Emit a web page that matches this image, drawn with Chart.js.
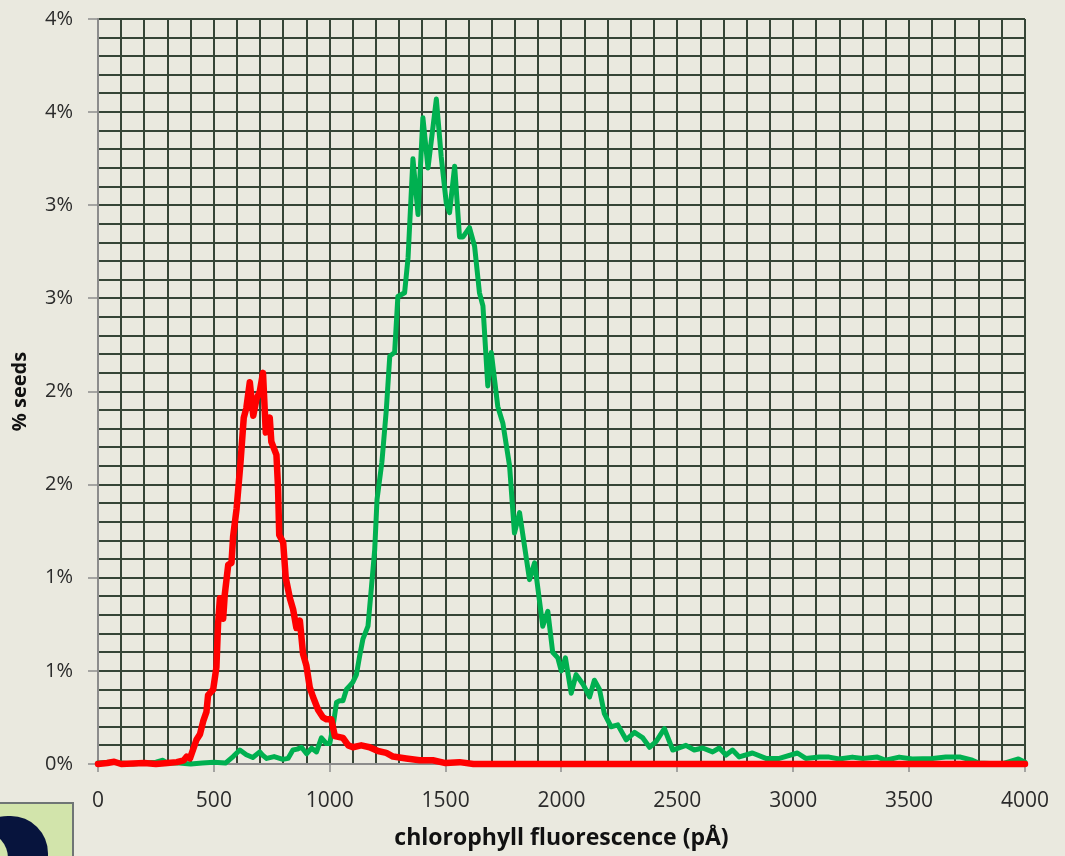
<!DOCTYPE html>
<html>
<head>
<meta charset="utf-8">
<script src="https://cdn.jsdelivr.net/npm/chart.js@4/dist/chart.umd.min.js"></script>
<style>
    body { margin: 0; background: #eae9df; overflow: hidden; }
    #wrap { position: relative; width: 1065px; height: 856px; }
    #logo { position: absolute; left: -4px; top: 802px; width: 74px; height: 60px;
            background: #d2e4ab; border: 2px solid #6f7575; overflow: hidden; }
    #logo .outer { position: absolute; left: -30px; top: 12px; width: 80px; height: 80px;
                   background: #07143d; border-radius: 45px 42px 40px 45px; }
    #logo .hole { position: absolute; left: -36px; top: 29px; width: 46px; height: 50px;
                  background: #d2e4ab; border-radius: 50%; }
</style>
</head>
<body>
<div id="wrap">
    <canvas id="chart" width="1065" height="856"></canvas>
    <div id="logo"><div class="outer"></div><div class="hole"></div></div>
</div>
<script>
    // Data (x = fluorescence pÅ, y = % seeds)
    const redX = [0, 40, 70, 100, 150, 200, 250, 300, 340, 370, 383, 397, 425, 440, 454, 468, 475, 497, 511, 518, 526, 540, 547,
        562, 576, 583, 598, 615, 629, 640, 655, 670, 684, 698, 712, 724, 741, 748, 770, 777, 782, 799, 810, 828, 842, 856,
        871, 885, 899, 914, 928, 950, 971, 986, 1007, 1022, 1057, 1080, 1100, 1136, 1172, 1208, 1244, 1273, 1330, 1388,
        1445, 1500, 1560, 1620, 4000];
    const redY = [0, 0.005, 0.012, 0, 0.003, 0.005, 0, 0.005, 0.01, 0.02, 0.04, 0.03, 0.13, 0.16, 0.23, 0.28, 0.37, 0.40, 0.52,
        0.75, 0.89, 0.78, 0.91, 1.07, 1.08, 1.22, 1.37, 1.62, 1.86, 1.91, 2.05, 1.87, 1.96, 2.0, 2.10, 1.78, 1.86, 1.73, 1.66,
        1.48, 1.23, 1.19, 1.0, 0.89, 0.83, 0.73, 0.77, 0.59, 0.53, 0.41, 0.36, 0.29, 0.25, 0.24, 0.24, 0.15, 0.14, 0.10,
        0.09, 0.10, 0.09, 0.07, 0.06, 0.04, 0.03, 0.02, 0.02, 0.005, 0.01, 0, 0];

    const greenX = [0, 50, 100, 150, 200, 250, 280, 300, 350, 400, 450, 500, 550, 583, 612, 640, 668, 698, 712, 728, 760,
        798, 820, 841, 860, 878, 900, 922, 943, 964, 985, 1000, 1014, 1029, 1043, 1057, 1072, 1086, 1100, 1115, 1129, 1143,
        1165, 1180, 1194, 1204, 1225, 1244, 1259, 1280, 1294, 1323, 1338, 1359, 1381, 1402, 1424, 1460, 1481, 1503, 1517,
        1539, 1560, 1575, 1603, 1625, 1646, 1661, 1682, 1697, 1725, 1747, 1776, 1797, 1819, 1862, 1884, 1919, 1941, 1962,
        1984, 1999, 2017, 2042, 2063, 2092, 2121, 2142, 2164, 2185, 2214, 2243, 2279, 2315, 2351, 2380, 2408, 2444, 2480,
        2537, 2573, 2609, 2652, 2681, 2710, 2738, 2767, 2824, 2882, 2940, 3018, 3054, 3112, 3155, 3198, 3255, 3300, 3363,
        3399, 3457, 3514, 3601, 3658, 3722, 3773, 3800, 3900, 3972, 4000];
    const greenY = [0.005, 0.01, 0.005, 0, 0.005, 0.01, 0.02, 0.005, 0.005, 0, 0.005, 0.01, 0.005, 0.04, 0.075, 0.05, 0.035,
        0.065, 0.045, 0.03, 0.04, 0.025, 0.03, 0.075, 0.08, 0.09, 0.055, 0.085, 0.065, 0.14, 0.11, 0.11, 0.2, 0.33, 0.34,
        0.34, 0.40, 0.42, 0.44, 0.48, 0.58, 0.67, 0.74, 0.95, 1.15, 1.42, 1.62, 1.90, 2.19, 2.21, 2.51, 2.53, 2.72, 3.25,
        2.95, 3.47, 3.20, 3.57, 3.26, 3.01, 2.96, 3.21, 2.83, 2.83, 2.88, 2.78, 2.53, 2.46, 2.03, 2.21, 1.92, 1.83, 1.60,
        1.24, 1.35, 0.99, 1.08, 0.74, 0.82, 0.60, 0.57, 0.50, 0.57, 0.38, 0.48, 0.43, 0.36, 0.45, 0.40, 0.27, 0.20, 0.21,
        0.13, 0.17, 0.14, 0.09, 0.12, 0.19, 0.075, 0.10, 0.075, 0.086, 0.065, 0.086, 0.048, 0.075, 0.038, 0.059, 0.03,
        0.03, 0.059, 0.03, 0.037, 0.037, 0.027, 0.037, 0.03, 0.037, 0.02, 0.037, 0.027, 0.03, 0.037, 0.037, 0.02, 0.005,
        0, 0.027, 0.01];

    const xMin = 0, xMax = 4000, xMinorStep = 100, xLabelStep = 500;
    const yMin = 0, yMax = 4, yMinorStep = 0.1, yLabelStep = 0.5;

    const gridColor = '#364536';
    const axisGray = '#8c8c8c';
    const textColor = '#2b2b2b';

    function toPoints(xs, ys) {
        return xs.map((x, i) => ({ x: x, y: ys[i] }));
    }

    function isMultiple(v, step) {
        const r = v / step;
        return Math.abs(r - Math.round(r)) < 1e-6;
    }

    const ctx = document.getElementById('chart').getContext('2d');
    const chart = new Chart(ctx, {
        type: 'line',
        data: {
            datasets: [
                {
                    label: 'red',
                    data: toPoints(redX, redY),
                    borderColor: '#ff0000',
                    borderWidth: 6.5,
                    pointRadius: 0,
                    tension: 0,
                    borderJoinStyle: 'round',
                    borderCapStyle: 'round',
                    clip: false
                },
                {
                    label: 'green',
                    data: toPoints(greenX, greenY),
                    borderColor: '#00b050',
                    borderWidth: 5,
                    pointRadius: 0,
                    tension: 0,
                    borderJoinStyle: 'round',
                    borderCapStyle: 'round',
                    clip: false
                }
            ]
        },
        options: {
            responsive: false,
            animation: false,
            devicePixelRatio: 1,
            layout: { padding: { left: 0, right: 39, top: 19, bottom: 0 } },
            plugins: {
                legend: { display: false },
                tooltip: { enabled: false }
            },
            scales: {
                x: {
                    type: 'linear',
                    min: xMin,
                    max: xMax,
                    afterFit: function(scale) { scale.height = 92; },
                    border: { color: axisGray, width: 2 },
                    grid: {
                        color: gridColor,
                        lineWidth: 2,
                        tickLength: 8,
                        tickWidth: 1.5,
                        tickColor: c => isMultiple(c.tick.value, xLabelStep) ? axisGray : 'rgba(0,0,0,0)'
                    },
                    ticks: {
                        stepSize: xMinorStep,
                        maxTicksLimit: 1000,
                        autoSkip: false,
                        maxRotation: 0,
                        padding: 16,
                        color: textColor,
                        font: { family: 'Open Sans', size: 21 },
                        callback: v => isMultiple(v, xLabelStep) ? String(v) : ''
                    },
                    title: {
                        display: true,
                        text: 'chlorophyll fluorescence (pÅ)',
                        color: '#111',
                        font: { family: 'Open Sans', size: 23, weight: 'bold' },
                        padding: { top: 0, bottom: 4 }
                    }
                },
                y: {
                    min: yMin,
                    max: yMax,
                    afterFit: function(scale) {
                        scale.width = 98;
                        // the top label may overhang into the page margin
                        scale.paddingTop = 0;
                        scale.paddingBottom = 0;
                    },
                    border: { color: axisGray, width: 2 },
                    grid: {
                        color: gridColor,
                        lineWidth: 2,
                        tickLength: 10,
                        tickWidth: 1.5,
                        tickColor: c => isMultiple(c.tick.value, yLabelStep) ? axisGray : 'rgba(0,0,0,0)'
                    },
                    ticks: {
                        stepSize: yMinorStep,
                        maxTicksLimit: 1000,
                        autoSkip: false,
                        padding: 15,
                        color: textColor,
                        font: { family: 'Open Sans', size: 20 },
                        callback: v => isMultiple(v, yLabelStep) ? Math.round(v) + '%' : ''
                    },
                    title: {
                        display: true,
                        text: '% seeds',
                        color: '#111',
                        font: { family: 'Open Sans', size: 20, weight: 'bold' },
                        padding: { top: 8, bottom: 0 }
                    }
                }
            }
        }
    });
</script>
</body>
</html>
